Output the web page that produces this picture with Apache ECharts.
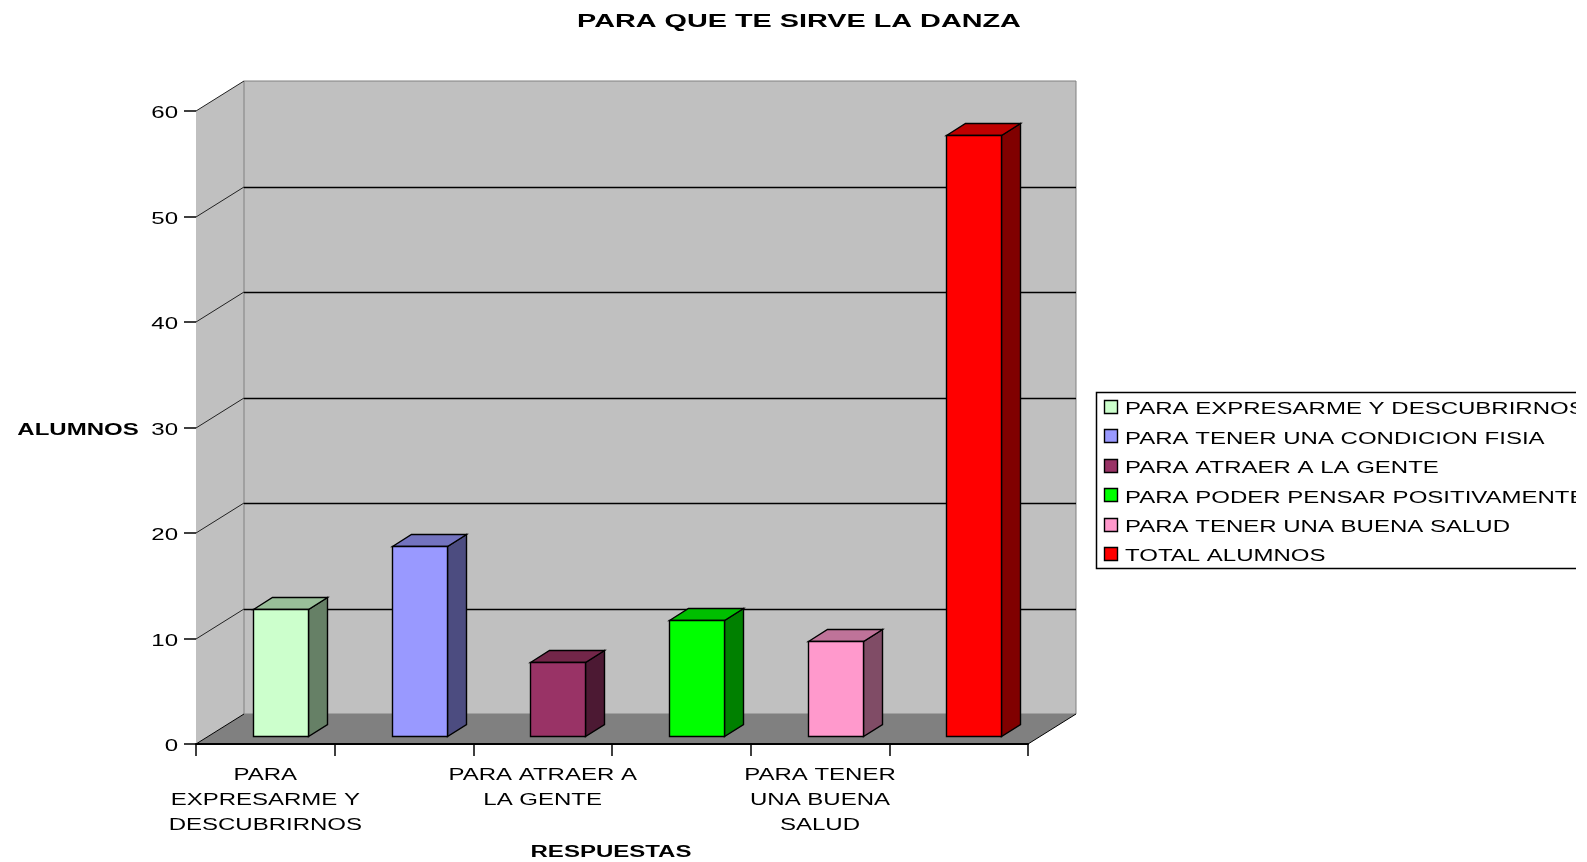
<!DOCTYPE html>
<html>
<head>
<meta charset="utf-8">
<title>PARA QUE TE SIRVE LA DANZA</title>
<script src="https://cdn.jsdelivr.net/npm/echarts@6/dist/echarts.min.js"></script>
<style>
  html, body { margin: 0; padding: 0; background: #fff; overflow: hidden; }
  #main { width: 1587px; height: 862px; }
</style>
</head>
<body>
<div id="main"></div>
<script>
const titleText = 'PARA QUE TE SIRVE LA DANZA';
const yName = 'ALUMNOS';
const xName = 'RESPUESTAS';
const categories = [
  'PARA EXPRESARME Y DESCUBRIRNOS',
  'PARA TENER UNA CONDICION FISIA',
  'PARA ATRAER A LA GENTE',
  'PARA PODER PENSAR POSITIVAMENTE',
  'PARA TENER UNA BUENA SALUD',
  'TOTAL ALUMNOS'
];
const values = [12, 18, 7, 11, 9, 57];
// every other label is dropped in the original
const tickLabels = ['PARA\nEXPRESARME Y\nDESCUBRIRNOS', '', 'PARA ATRAER A\nLA GENTE', '', 'PARA TENER\nUNA BUENA\nSALUD', ''];
const yTicks = [0, 10, 20, 30, 40, 50, 60];
const frontColors = ['#ccffcc', '#9999ff', '#993366', '#00ff00', '#ff99cc', '#ff0000'];
const topColors = ['#99bf99', '#7373bf', '#732649', '#00bf00', '#bf7399', '#bf0000'];
const sideColors = ['#668066', '#4c4c80', '#4c1933', '#008000', '#804c66', '#800000'];

// fake 3D sizes
const DEPTH_X = 48, DEPTH_Y = 30;
const BAR_W = 55, BAR_SHIFT_X = 15, BAR_SHIFT_Y = 8, BAR_DX = 19, BAR_DY = 12;
// the source text is stretched sideways
const FONT = '"Liberation Sans", Arial, sans-serif';
const STRETCH = 1.5;

function wideText(x, y, text, opt) {
  opt = opt || {};
  return {
    type: 'text',
    x: x,
    y: y,
    scaleX: opt.scaleX || STRETCH,
    z2: 50,
    style: {
      text: text,
      fill: '#000',
      font: (opt.bold ? 'bold ' : '') + (opt.size || 16) + 'px ' + FONT,
      align: opt.align || 'center',
      verticalAlign: opt.valign || 'middle',
      lineHeight: opt.lineHeight
    }
  };
}

function renderWalls(params, api) {
  const box = params.coordSys;
  const x0 = box.x, x1 = box.x + box.width;
  const y0 = api.coord([0, 0])[1];
  const yMax = api.coord([0, yTicks[yTicks.length - 1]])[1];
  const children = [
    { type: 'polygon', shape: { points: [[x0, y0], [x0 + DEPTH_X, y0 - DEPTH_Y], [x0 + DEPTH_X, yMax - DEPTH_Y], [x0, yMax]] }, style: { fill: '#c0c0c0' } },
    { type: 'rect', shape: { x: x0 + DEPTH_X, y: yMax - DEPTH_Y, width: x1 - x0, height: y0 - yMax }, style: { fill: '#c0c0c0', stroke: '#808080', lineWidth: 1 } },
    { type: 'polygon', shape: { points: [[x0, y0], [x0 + DEPTH_X, y0 - DEPTH_Y], [x1 + DEPTH_X, y0 - DEPTH_Y], [x1, y0]] }, style: { fill: '#808080' } },
    { type: 'line', shape: { x1: x1, y1: y0, x2: x1 + DEPTH_X, y2: y0 - DEPTH_Y }, style: { stroke: '#000', lineWidth: 1 } },
    { type: 'line', shape: { x1: x0, y1: y0, x2: x0 + DEPTH_X, y2: y0 - DEPTH_Y }, style: { stroke: '#000', lineWidth: 1 } }
  ];
  yTicks.slice(1).forEach(function (v) {
    const y = Math.round(api.coord([0, v])[1]);
    const back = y - DEPTH_Y;
    children.push({ type: 'line', shape: { x1: x0, y1: y, x2: x0 + DEPTH_X, y2: back }, style: { stroke: '#222', lineWidth: 1 } });
    if (v < yTicks[yTicks.length - 1]) {
      children.push({ type: 'line', shape: { x1: x0 + DEPTH_X, y1: back + 0.5, x2: x1 + DEPTH_X, y2: back + 0.5 }, style: { stroke: '#000', lineWidth: 1.4 } });
    }
  });
  return { type: 'group', children: children };
}

function renderBar(params, api) {
  const i = api.value(0);
  const v = api.value(1);
  const base = api.coord([i, 0]);
  const top = api.coord([i, v]);
  const xl = Math.round(base[0] + BAR_SHIFT_X - BAR_W / 2) + 0.5;
  const xr = xl + BAR_W;
  const yb = Math.round(base[1] - BAR_SHIFT_Y) + 0.5;
  const yt = Math.round(top[1] - BAR_SHIFT_Y) + 0.5;
  const edge = { stroke: '#000', lineWidth: 1.4 };
  return {
    type: 'group',
    children: [
      { type: 'polygon', shape: { points: [[xr, yt], [xr + BAR_DX, yt - BAR_DY], [xr + BAR_DX, yb - BAR_DY], [xr, yb]] }, style: Object.assign({ fill: sideColors[i] }, edge) },
      { type: 'polygon', shape: { points: [[xl, yt], [xl + BAR_DX, yt - BAR_DY], [xr + BAR_DX, yt - BAR_DY], [xr, yt]] }, style: Object.assign({ fill: topColors[i] }, edge) },
      { type: 'rect', shape: { x: xl, y: yt, width: BAR_W, height: yb - yt }, style: Object.assign({ fill: frontColors[i] }, edge) }
    ]
  };
}

function renderXLabel(params, api) {
  const i = api.value(0);
  const p = api.coord([i, 0]);
  return wideText(p[0], p[1] + 19, tickLabels[i], { valign: 'top', lineHeight: 25 });
}

function renderYLabel(params, api) {
  const v = api.value(1);
  const p = api.coord([0, v]);
  return wideText(params.coordSys.x - 18, p[1] + 3, String(v), { align: 'right' });
}

// legend is cut by the picture edge, like in the source image
const legendRows = categories.map(function (name, i) {
  const y = 410 + i * 29.4;
  return [
    { type: 'rect', shape: { x: 1104.5, y: Math.round(y) - 9.5, width: 13, height: 13 }, style: { fill: frontColors[i], stroke: '#000', lineWidth: 1.4 } },
    wideText(1125, y, name, { align: 'left' })
  ];
}).reduce(function (a, b) { return a.concat(b); }, []);

const option = {
  animation: false,
  backgroundColor: '#fff',
  grid: { left: 196, right: 559, top: 111, bottom: 118 },
  xAxis: {
    type: 'category',
    data: categories,
    z: 5,
    axisLine: { show: true, lineStyle: { color: '#000', width: 2 } },
    axisTick: { show: true, length: 12, interval: 0, lineStyle: { color: '#000', width: 1.5 } },
    axisLabel: { show: false }
  },
  yAxis: {
    type: 'value',
    min: 0,
    max: 60,
    interval: 10,
    axisLine: { show: false },
    axisTick: { show: true, length: 12, lineStyle: { color: '#000', width: 1.5 } },
    axisLabel: { show: false },
    splitLine: { show: false }
  },
  series: [
    { type: 'custom', name: 'walls', silent: true, z: 1, renderItem: renderWalls, data: [[0, 0]] },
    { type: 'custom', name: 'ALUMNOS', silent: true, z: 3, renderItem: renderBar, encode: { x: 0, y: 1 },
      data: values.map(function (v, i) { return [i, v]; }) },
    { type: 'custom', name: 'xlabels', silent: true, z: 4, renderItem: renderXLabel, clip: false,
      data: tickLabels.map(function (t, i) { return [i, 0]; }) },
    { type: 'custom', name: 'ylabels', silent: true, z: 4, renderItem: renderYLabel, clip: false,
      data: yTicks.map(function (v) { return [0, v]; }) }
  ],
  graphic: [
    wideText(799, 22, titleText, { bold: true, size: 18, scaleX: 1.6 }),
    wideText(78, 431, yName, { bold: true }),
    wideText(611, 853, xName, { bold: true }),
    { type: 'rect', shape: { x: 1096.5, y: 392.5, width: 520, height: 176 }, style: { fill: '#fff', stroke: '#000', lineWidth: 1.5 } }
  ].concat(legendRows, [
    // white strip where the source image stops
    { type: 'rect', z2: 60, shape: { x: 1576, y: 380, width: 11, height: 200 }, style: { fill: '#fff' } }
  ])
};

const chart = echarts.init(document.getElementById('main'));
chart.setOption(option);
</script>
</body>
</html>
